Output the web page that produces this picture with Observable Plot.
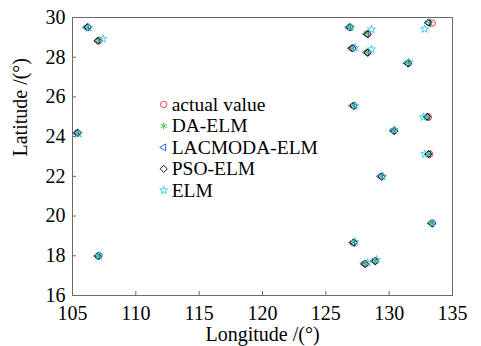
<!DOCTYPE html>
<html>
<head>
<meta charset="utf-8">
<script src="https://cdn.jsdelivr.net/npm/d3@7"></script>
<script src="https://cdn.jsdelivr.net/npm/@observablehq/plot@0.6"></script>
<style>
  html, body { margin: 0; padding: 0; background: white; }
  #chart svg, #chart svg text { font-family: "Liberation Serif" !important; }
</style>
</head>
<body>
<div id="chart"></div>
<script>
const xTicks = [105, 110, 115, 120, 125, 130, 135];
const yTicks = [16, 18, 20, 22, 24, 26, 28, 30];

const seriesNames = ["actual value", "DA-ELM", "LACMODA-ELM", "PSO-ELM", "ELM"];

const actualLon = [106.2, 107.1, 105.4, 107.1, 126.9, 128.3, 133.4, 127.1, 128.3, 131.5, 127.2, 133.1, 130.4, 133.2, 129.4, 133.4, 127.2, 128.1, 128.9];
const actualLat = [29.50, 28.85, 24.18, 18.00, 29.50, 29.18, 29.72, 28.45, 28.25, 27.70, 25.55, 24.98, 24.30, 23.12, 22.00, 19.65, 18.65, 17.60, 17.75];

const daLon = [106.15, 107.05, 105.4, 107.05, 126.85, 128.25, 133.2, 127.05, 128.25, 131.5, 127.15, 133.0, 130.35, 133.1, 129.35, 133.35, 127.15, 128.05, 128.85];
const daLat = [29.52, 28.85, 24.20, 18.00, 29.52, 29.20, 29.70, 28.47, 28.25, 27.72, 25.57, 25.00, 24.30, 23.12, 22.00, 19.65, 18.67, 17.62, 17.75];

const lacLon = [106.1, 107.0, 105.3, 107.0, 126.8, 128.2, 133.1, 127.0, 128.2, 131.4, 127.1, 133.0, 130.3, 133.1, 129.3, 133.3, 127.1, 128.0, 128.8];
const lacLat = [29.50, 28.84, 24.18, 18.00, 29.50, 29.17, 29.72, 28.45, 28.24, 27.70, 25.56, 24.99, 24.30, 23.12, 22.00, 19.64, 18.66, 17.60, 17.74];

const psoLon = [106.2, 107.0, 105.4, 107.0, 126.9, 128.3, 133.1, 127.1, 128.3, 131.5, 127.2, 133.0, 130.4, 133.1, 129.4, 133.4, 127.2, 128.1, 128.9];
const psoLat = [29.52, 28.82, 24.20, 17.98, 29.52, 29.15, 29.75, 28.45, 28.22, 27.68, 25.55, 25.00, 24.28, 23.12, 21.98, 19.62, 18.67, 17.58, 17.72];

const elmLon = [106.3, 107.4, 105.5, 107.1, 126.95, 128.6, 132.8, 127.3, 128.6, 131.55, 127.3, 132.7, 130.4, 132.8, 129.5, 133.4, 127.3, 128.3, 129.0];
const elmLat = [29.48, 28.92, 24.15, 18.00, 29.50, 29.40, 29.42, 28.48, 28.40, 27.75, 25.55, 24.98, 24.35, 23.12, 22.00, 19.65, 18.70, 17.65, 17.80];

const FONT = "Liberation Serif";

const styles = [
  {symbol: "circle", stroke: "#ff2a2a", rotate: 0, r: 3.2},
  {symbol: "asterisk", stroke: "#33c433", rotate: 0, r: 3.4},
  {symbol: "triangle2", stroke: "#2a50d0", rotate: -90, r: 3.3},
  {symbol: "diamond2", stroke: "#000000", rotate: 0, r: 3.2},
  {symbol: "star", stroke: "#33c8dc", rotate: 0, r: 2.5}
];

const lonArrays = [actualLon, daLon, lacLon, psoLon, elmLon];
const latArrays = [actualLat, daLat, lacLat, psoLat, elmLat];

const pointMarks = lonArrays.map((lons, s) => {
  const data = lons.map((lon, i) => ({lon, lat: latArrays[s][i]}));
  return Plot.dot(data, {
    x: "lon", y: "lat",
    symbol: () => styles[s].symbol,
    r: styles[s].r,
    rotate: styles[s].rotate,
    stroke: styles[s].stroke,
    fill: "none",
    strokeWidth: 0.9
  });
});

const legendX = 112.2;
const legendTop = 25.62;
const legendStep = 1.08;
const legendData = seriesNames.map((name, i) => ({name, i, lon: legendX, lat: legendTop - i * legendStep}));

const legendMarks = legendData.map(d => Plot.dot([d], {
  x: "lon", y: "lat",
  symbol: () => styles[d.i].symbol,
  r: styles[d.i].r,
  rotate: styles[d.i].rotate,
  stroke: styles[d.i].stroke,
  fill: "none",
  strokeWidth: 0.9
}));

const innerW = 481 - 72 - 29;
const innerH = 346 - 17 - 51;

const chart = Plot.plot({
  width: 481,
  height: 346,
  marginLeft: 72,
  marginRight: 29,
  marginTop: 17,
  marginBottom: 51,
  x: {domain: [105, 135]},
  y: {domain: [16, 30]},
  style: {fontFamily: FONT, fontSize: "20px", color: "black", background: "white"},
  marks: [
    Plot.frame({stroke: "#6a6a6a", strokeWidth: 1}),
    Plot.tickX(xTicks, {x: d => d, insetTop: innerH - 4, stroke: "#6a6a6a"}),
    Plot.tickY(yTicks, {y: d => d, insetRight: innerW - 4, stroke: "#6a6a6a"}),
    Plot.axisX({ticks: xTicks, tickSize: 0, tickPadding: 10, label: null, tickFormat: d => String(d), fontSize: 20, fontFamily: FONT}),
    Plot.axisY({ticks: yTicks, tickSize: 0, tickPadding: 7, label: null, tickFormat: d => String(d), fontSize: 20, fontFamily: FONT}),
    Plot.text(["Longitude /(°)"], {frameAnchor: "bottom", dy: 45, fontSize: 20, fill: "black", letterSpacing: 0.9, fontFamily: FONT}),
    Plot.text(["Latitude /(°)"], {frameAnchor: "left", dx: -52, rotate: -90, fontSize: 20, fill: "black", letterSpacing: 0.9, fontFamily: FONT}),
    ...pointMarks,
    ...legendMarks,
    Plot.text(legendData, {x: "lon", y: "lat", text: "name", dx: 8, textAnchor: "start", fontSize: 19.5, fill: "black", letterSpacing: 0.8, fontFamily: FONT})
  ]
});

document.getElementById("chart").appendChild(chart);
</script>
</body>
</html>
